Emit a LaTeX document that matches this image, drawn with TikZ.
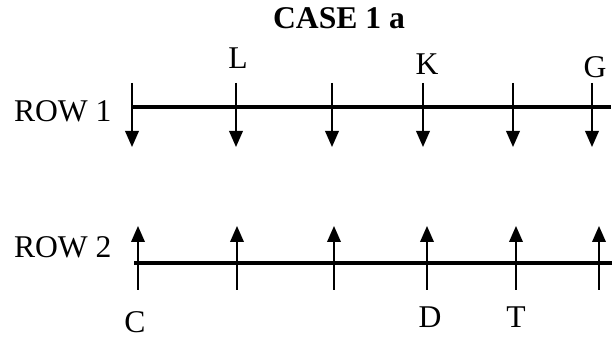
\documentclass[tikz,border=0pt]{standalone}
\usepackage{fontspec}
\setmainfont{Liberation Serif}
\usetikzlibrary{arrows.meta}
\tikzset{
  rowline/.style = {line width=2.6pt},
  force/.style = {line width=1.2pt, -{Triangle[length=4mm, width=3.4mm]}},
  lbl/.style = {inner sep=0pt, font=\fontsize{22.5}{26}\selectfont},
  heading/.style = {lbl, font=\fontsize{22.5}{26}\selectfont\bfseries}
}

\begin{document}
\begin{tikzpicture}
    \useasboundingbox (0,0) rectangle (15.4,8.5);
    \node [heading] (case) at (8.475,8.05) {CASE 1 a};
    % row 1, loads pointing down
    \node [lbl] (row1) at (1.57,5.725) {ROW 1};
    \coordinate (r1s) at (3.3,5.825);
    \coordinate (r1e) at (15.275,5.825);
    \draw [rowline] (r1s) -- (r1e);
    \foreach \n/\x in {1/3.3, 2/5.9, 3/8.3, 4/10.575, 5/12.825, 6/14.8}{
      \coordinate (t\n) at (\x,6.425);
      \coordinate (b\n) at (\x,4.825);
      \draw [force] (t\n) -- (b\n);
    }
    \node [lbl] (L) at (5.95,7.05) {L};
    \node [lbl] (K) at (10.675,6.9) {K};
    \node [lbl] (G) at (14.875,6.8125) {G};
    % row 2, loads pointing up
    \node [lbl] (row2) at (1.57,2.3125) {ROW 2};
    \coordinate (r2s) at (3.35,1.925);
    \coordinate (r2e) at (15.3,1.925);
    \draw [rowline] (r2s) -- (r2e);
    \foreach \n/\x in {1/3.45, 2/5.925, 3/8.35, 4/10.675, 5/12.9, 6/14.975}{
      \coordinate (p\n) at (\x,1.25);
      \coordinate (q\n) at (\x,2.85);
      \draw [force] (p\n) -- (q\n);
    }
    \node [lbl] (C) at (3.375,0.45) {C};
    \node [lbl] (D) at (10.75,0.5625) {D};
    \node [lbl] (T) at (12.9,0.5625) {T};
\end{tikzpicture}
\end{document}
